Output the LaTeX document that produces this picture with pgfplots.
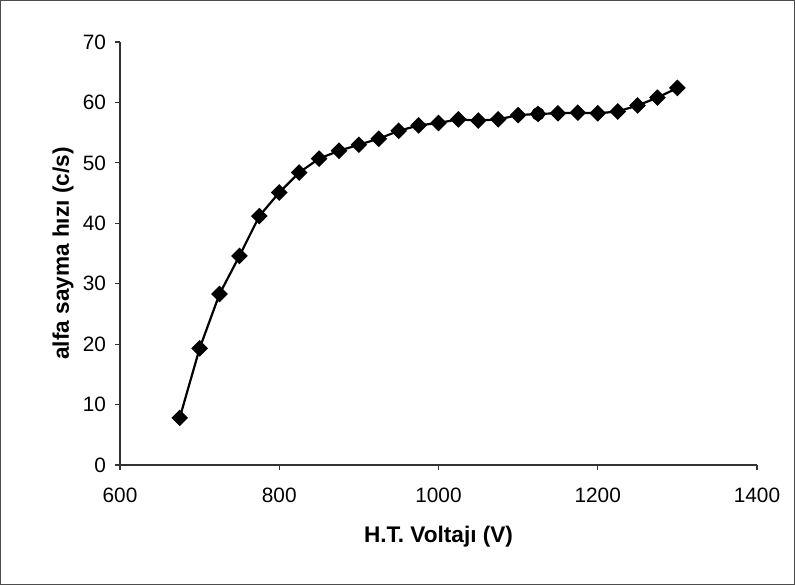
\documentclass[border=0pt]{standalone}
\usepackage{pgfplots}
\pgfplotsset{compat=1.18}
\usepackage{fontspec}
\setmainfont{Liberation Sans}
\begin{document}
\begin{tikzpicture}
\begin{axis}[
  at={(0,0)}, anchor=origin,
  scale only axis,
  width=318.5pt, height=211.5pt,
  xmin=600, xmax=1400, ymin=0, ymax=70,
  xtick={600,800,...,1400}, ytick={0,10,...,70},
  axis x line*=bottom, axis y line*=left,
  axis line style={line width=0.6pt, black!80},
  tick align=outside, major tick length=2.5pt,
  tick style={line width=0.6pt, black!80},
  /pgf/number format/assume math mode=true,
  /pgf/number format/1000 sep={},
  tick label style={font=\fontsize{10.4}{12}\selectfont},
  xticklabel style={yshift=-5.5pt},
  yticklabel style={xshift=-1pt},
  xlabel={\textbf{H.T. Voltajı (V)}},
  ylabel={\textbf{alfa sayma hızı (c/s)}},
  label style={font=\fontsize{11.3}{13}\selectfont},
  xlabel style={at={(axis description cs:0.5,0)}, anchor=center, yshift=-36pt},
  ylabel style={at={(axis description cs:0,0.5)}, anchor=center, yshift=28.5pt},
  clip=false,
]
\addplot[black, line width=1.1pt, mark=square*, mark size=2.4pt,
  mark options={rotate=45, solid, fill=black}] coordinates {
(675,7.8) (700,19.3) (725,28.3) (750,34.6) (775,41.2) (800,45.1)
(825,48.4) (850,50.7) (875,52.0) (900,53.0) (925,54.0) (950,55.3)
(975,56.2) (1000,56.6) (1025,57.2) (1050,57.0) (1075,57.2) (1100,57.9)
(1125,58.1) (1150,58.2) (1175,58.3) (1200,58.2) (1225,58.5) (1250,59.5)
(1275,60.8) (1300,62.4)
};
\addplot[only marks, black, mark=*, mark size=3.1pt] coordinates {(1125,58.1)};
\end{axis}
\draw[line width=0.5pt, black!70] (-59.75pt,-59.75pt) rectangle (337.25pt,232.25pt);
\end{tikzpicture}
\end{document}
